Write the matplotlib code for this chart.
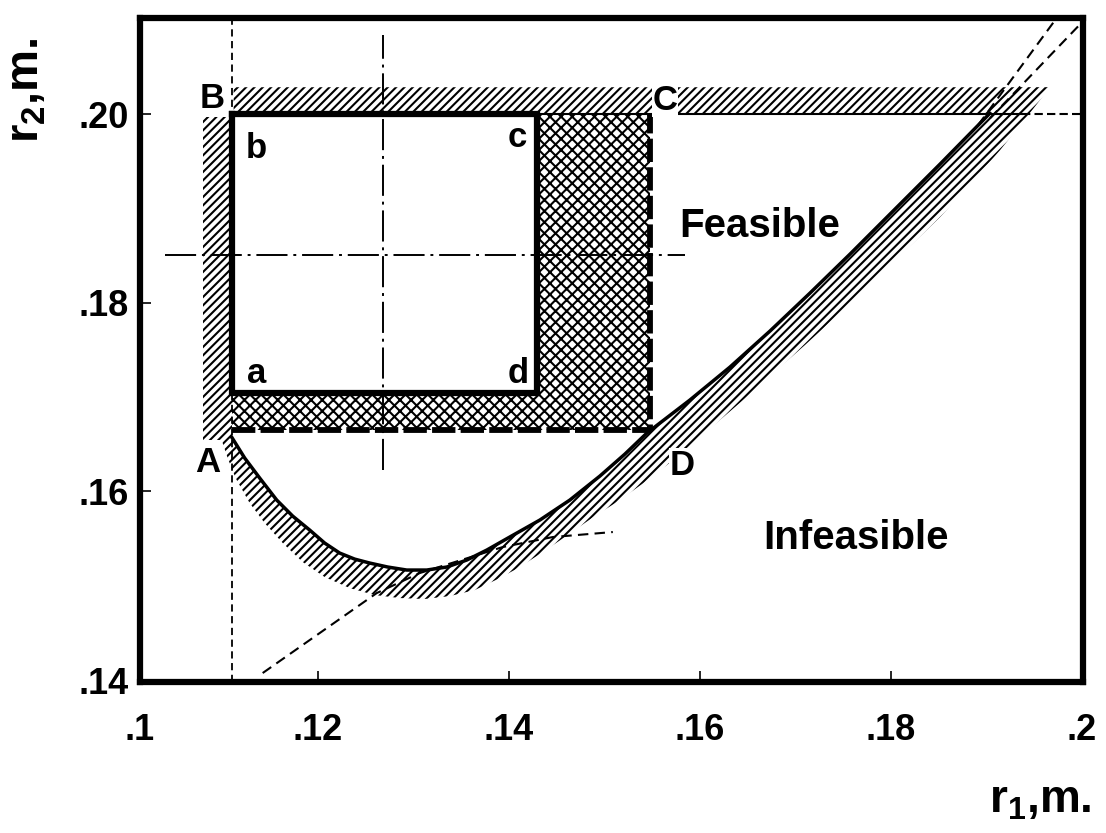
import matplotlib
matplotlib.use("Agg")
import matplotlib.pyplot as plt

plt.rcParams['font.family'] = ['Liberation Sans', 'DejaVu Sans']
plt.rcParams['font.weight'] = 'bold'
plt.rcParams['mathtext.fontset'] = 'custom'
plt.rcParams['mathtext.rm'] = 'Liberation Sans:bold'
plt.rcParams['mathtext.bf'] = 'Liberation Sans:bold'
plt.rcParams['hatch.linewidth'] = 1.5

# ---------------- data ----------------
x_ticks = [0.1014, 0.12, 0.14, 0.16, 0.18, 0.2]
x_ticklabels = ['.1', '.12', '.14', '.16', '.18', '.2']
y_ticks = [0.14, 0.16, 0.18, 0.20]
y_ticklabels = ['.14', '.16', '.18', '.20']
x_limits = [0.1014, 0.2001]
y_limits = [0.1398, 0.2102]

# constraint curve (solid line, upper edge of the hatched band)
curve_r1 = [0.11099, 0.11236, 0.11393, 0.11571, 0.11738, 0.11916, 0.12073,
            0.12230, 0.12387, 0.12545, 0.12733, 0.12932, 0.13141, 0.13351,
            0.13560, 0.13770, 0.14010, 0.14325, 0.14639, 0.14953, 0.15215,
            0.15445, 0.15895, 0.16314, 0.16733, 0.17152, 0.17571, 0.17958,
            0.18513, 0.19037, 0.19351]
curve_r2 = [0.16577, 0.16354, 0.16142, 0.15909, 0.15739, 0.15591, 0.15453,
            0.15347, 0.15283, 0.15241, 0.15199, 0.15167, 0.15167, 0.15199,
            0.15273, 0.15379, 0.15517, 0.15697, 0.15909, 0.16163, 0.16396,
            0.16619, 0.16969, 0.17318, 0.17700, 0.18103, 0.18516, 0.18908,
            0.19470, 0.20011, 0.20286]
# outer edge of the hatched band along the curve
band_r1 = [0.10995, 0.11058, 0.11141, 0.11288, 0.11445, 0.11634, 0.11843,
           0.12073, 0.12335, 0.12597, 0.12859, 0.13120, 0.13382, 0.13644,
           0.13906, 0.14115, 0.14356, 0.14586, 0.14869, 0.15162, 0.15424,
           0.15654, 0.15948, 0.16209, 0.16524, 0.16838, 0.17099, 0.17361,
           0.17623, 0.17885, 0.18199, 0.18513, 0.18827, 0.19141, 0.19403,
           0.19665]
band_r2 = [0.16545, 0.16354, 0.16142, 0.15877, 0.15665, 0.15453, 0.15252,
           0.15093, 0.14976, 0.14902, 0.14870, 0.14860, 0.14891, 0.14955,
           0.15082, 0.15199, 0.15358, 0.15517, 0.15718, 0.15909, 0.16100,
           0.16280, 0.16524, 0.16757, 0.17032, 0.17318, 0.17552, 0.17795,
           0.18039, 0.18294, 0.18601, 0.18908, 0.19258, 0.19618, 0.19947,
           0.20286]

# r1 lower bound band (vertical) and r2 upper bound band (horizontal)
left_band_r1 = [0.10796, 0.1110]
left_band_r2 = [0.16545, 0.1997]
top_band_r1 = [0.1112, 0.19665, 0.1937]   # left, right end top, right end bottom
top_band_r2 = [0.2000, 0.20286]

# tolerance boxes
inner_r1 = [0.1110, 0.1430]
inner_r2 = [0.1704, 0.2000]
outer_r1 = [0.1110, 0.1548]
outer_r2 = [0.1665, 0.2000]

# nominal design cross (dash-dot)
nominal_r1 = 0.1268
nominal_r2 = 0.1851
cross_v_r2 = [0.1623, 0.2084]
cross_h_r1 = [0.1040, 0.1584]

# thin dashed guide lines
vline_r1 = 0.1110
hline_r2 = 0.2000
hline_solid_r1 = [0.1110, 0.1937]
hline_dash_r1 = [0.1937, 0.2001]
dash_curve_r1 = [0.11424, 0.12021, 0.12618, 0.13068, 0.13937, 0.14461, 0.15089]
dash_curve_r2 = [0.14075, 0.14499, 0.14923, 0.15135, 0.15411, 0.15517, 0.15570]
dash_tr1_r1 = [0.18911, 0.19717]
dash_tr1_r2 = [0.19883, 0.20996]
dash_tr2_r1 = [0.19037, 0.2000]
dash_tr2_r2 = [0.19958, 0.20975]

# point labels
pt_labels = ['B', 'b', 'C', 'c', 'a', 'd', 'A', 'D']
pt_r1 = [0.1090, 0.11361, 0.15634, 0.14094, 0.11361, 0.14094, 0.10848, 0.15812]
pt_r2 = [0.2017, 0.1964, 0.20148, 0.19756, 0.17255, 0.17255, 0.16312, 0.1628]
region_labels = ['Feasible', 'Infeasible']
region_r1 = [0.16628, 0.17634]
region_r2 = [0.18813, 0.15506]

# ---------------- figure ----------------
W, H = 1106, 833
fig = plt.figure(figsize=(W / 100, H / 100), dpi=100)
ax = fig.add_axes([140 / W, 1 - 682 / H, (1083 - 140) / W, (682 - 18) / H])
ax.set_xlim(*x_limits)
ax.set_ylim(*y_limits)

# hatched bands
ax.fill(curve_r1 + band_r1[::-1], curve_r2 + band_r2[::-1],
        facecolor='white', edgecolor='black', linewidth=0, hatch='////', zorder=1)
ax.fill([left_band_r1[0], left_band_r1[1], left_band_r1[1], left_band_r1[0]],
        [left_band_r2[0], left_band_r2[0], left_band_r2[1], left_band_r2[1]],
        facecolor='white', edgecolor='black', linewidth=0, hatch='////', zorder=1)
ax.fill([top_band_r1[0], top_band_r1[0], top_band_r1[1], top_band_r1[2]],
        [top_band_r2[0], top_band_r2[1], top_band_r2[1], top_band_r2[0]],
        facecolor='white', edgecolor='black', linewidth=0, hatch='////', zorder=1)

# cross-hatched L region between inner and outer boxes
ax.fill([outer_r1[0], outer_r1[1], outer_r1[1], inner_r1[1], inner_r1[1], inner_r1[0]],
        [outer_r2[0], outer_r2[0], outer_r2[1], inner_r2[1], inner_r2[0], inner_r2[0]],
        facecolor='white', edgecolor='black', linewidth=0, hatch='xxx', zorder=1)

# thin guide lines
ax.plot([vline_r1, vline_r1], y_limits, color='black', lw=1.3,
        dashes=(4, 2.5), zorder=2)
ax.plot(hline_solid_r1, [hline_r2, hline_r2], color='black', lw=1.5, zorder=2)
ax.plot(hline_dash_r1, [hline_r2, hline_r2], color='black', lw=1.5,
        dashes=(4, 2), zorder=2)
ax.plot(dash_curve_r1, dash_curve_r2, color='black', lw=1.5, dashes=(5, 3), zorder=2)
ax.plot(dash_tr1_r1, dash_tr1_r2, color='black', lw=1.5, dashes=(5, 3), zorder=2)
ax.plot(dash_tr2_r1, dash_tr2_r2, color='black', lw=1.5, dashes=(5, 3), zorder=2)

# nominal cross (dash-dot)
ax.plot([nominal_r1, nominal_r1], cross_v_r2, color='black', lw=1.4,
        dashes=(16, 3, 1.5, 3), zorder=2)
ax.plot(cross_h_r1, [nominal_r2, nominal_r2], color='black', lw=1.4,
        dashes=(16, 3, 1.5, 3), zorder=2)

# constraint curve
ax.plot(curve_r1[:-1], curve_r2[:-1], color='black', lw=2.5,
        solid_capstyle='round', solid_joinstyle='round', zorder=3)

# inner box abcd (solid, thick)
ax.plot([inner_r1[0], inner_r1[0], inner_r1[1], inner_r1[1], inner_r1[0]],
        [inner_r2[1], inner_r2[0], inner_r2[0], inner_r2[1], inner_r2[1]],
        color='black', lw=4.5, solid_joinstyle='miter', zorder=4)
# outer box ABCD (dashed, thick)
ax.plot([outer_r1[0], outer_r1[1], outer_r1[1]],
        [outer_r2[0], outer_r2[0], outer_r2[1]],
        color='black', lw=4.2, dashes=(4, 0.9), zorder=4)

# point labels
for lab, x, y in zip(pt_labels, pt_r1, pt_r2):
    bb = None
    if lab in ('C', 'D'):
        bb = dict(facecolor='white', edgecolor='none', pad=0.5)
    ax.text(x, y, lab, fontsize=25, fontweight='bold', ha='center', va='center',
            bbox=bb, zorder=5)
for lab, x, y in zip(region_labels, region_r1, region_r2):
    ax.text(x, y, lab, fontsize=29, fontweight='bold', ha='center', va='center',
            zorder=5)

# axes styling
for sp in ax.spines.values():
    sp.set_linewidth(4.5)
ax.set_xticks(x_ticks)
ax.set_xticklabels(x_ticklabels)
ax.set_yticks(y_ticks)
ax.set_yticklabels(y_ticklabels)
ax.tick_params(direction='in', length=8, width=1.2, labelsize=26)
ax.tick_params(axis='x', pad=22)
ax.tick_params(axis='y', pad=8)

# axis labels
fig.text(26 / W, 1 - 90 / H, r'$\mathbf{r}_{\mathbf{2}}$,m.', rotation=90,
         fontsize=34, fontweight='bold', ha='center', va='center')
fig.text(1040 / W, 1 - 800 / H, r'$\mathbf{r}_{\mathbf{1}}$,m.',
         fontsize=33, fontweight='bold', ha='center', va='center')

fig.savefig('out.png', dpi=100, facecolor='white')
